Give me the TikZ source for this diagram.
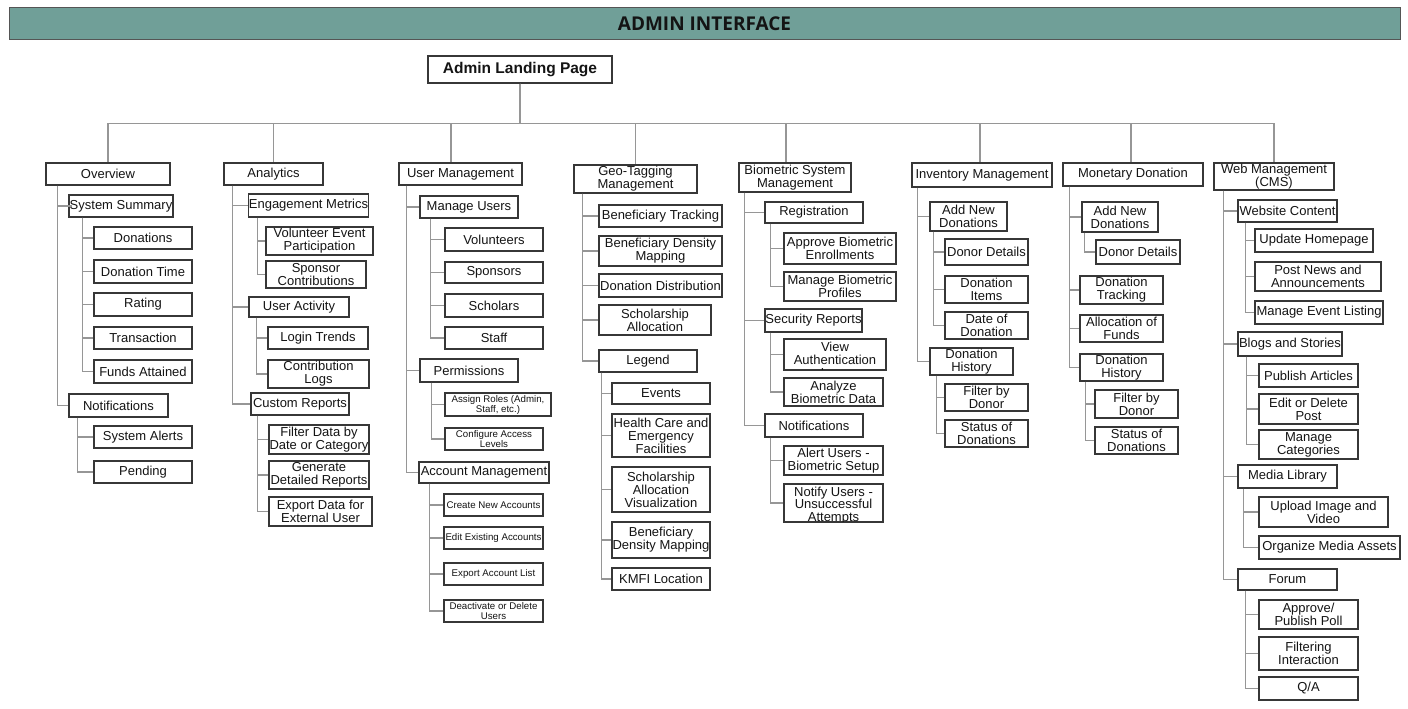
\documentclass[tikz,border=0pt]{standalone}
\usepackage{fontspec}
\setmainfont{Liberation Sans}
\newfontfamily\titlefont{Open Sans}
\definecolor{bordc}{RGB}{55,55,55}
\definecolor{linec}{RGB}{150,150,150}
\definecolor{txt}{RGB}{20,20,20}
\definecolor{teal}{RGB}{112,159,152}
\definecolor{barline}{RGB}{85,85,85}
\tikzset{
  box/.style={draw=bordc, line width=1.1pt, fill=white, inner xsep=0pt, inner ysep=0pt,
    align=center, text=txt, font=\fontsize{13}{12.9}\selectfont},
  sm/.style={font=\fontsize{9.7}{10}\selectfont},
  txtonly/.style={inner sep=0pt, align=center, text=txt, font=\fontsize{13}{12.9}\selectfont},
  conn/.style={draw=linec, line width=1.1pt},
}
% \bx[opts]{name}{x1}{y1}{x2}{y2}{text}
\newcommand\bx[7][]{\node[box,#1,minimum width={#5pt-#3pt},minimum height={#6pt-#4pt}] (#2) at ({(#3+#5)/2},{(#4+#6)/2}) {#7};}
% \br{parent}{dx}{child}
\newcommand\br[3]{\draw[conn] ([xshift=#2pt]#1.south west) |- (#3.west);}
\begin{document}
\begin{tikzpicture}[x=1pt,y=-1pt]
\useasboundingbox (0,0) rectangle (1408,709);
\fill[white] (0,0) rectangle (1408,709);

% title bar
\node[draw=barline, line width=1pt, fill=teal, minimum width=1391pt, minimum height=32pt,
      inner sep=0pt, text=txt, font=\titlefont\bfseries\fontsize{19}{22}\selectfont]
      (title) at (704.5,24) {ADMIN INTERFACE};

% root
\bx[font=\bfseries\fontsize{15.5}{18}\selectfont]{landing}{428}{56}{612}{83}{Admin Landing Page}

% level 1
\bx{ov}{46}{163}{170}{185}{Overview}
\bx{an}{224}{163}{323}{185}{Analytics}
\bx{um}{399}{163}{522}{185}{User Management}
\bx{geo}{574}{165}{697}{193}{Geo-Tagging\\Management}
\bx{bio}{739}{163}{851}{192}{Biometric System\\Management}
\bx{inv}{912}{163}{1052}{187}{Inventory Management}
\bx{mon}{1063}{163}{1203}{186}{Monetary Donation}
\bx{web}{1214}{163}{1334}{190}{Web Management\\(CMS)}

\draw[conn] (landing.south) -- ++(0,39.5) -| (ov.north);
\draw[conn] (landing.south) -- ++(0,39.5) -| (an.north);
\draw[conn] (landing.south) -- ++(0,39.5) -| ([xshift=-9.5pt]um.north);
\draw[conn] (landing.south) -- ++(0,39.5) -| (geo.north);
\draw[conn] (landing.south) -- ++(0,39.5) -| ([xshift=-9pt]bio.north);
\draw[conn] (landing.south) -- ++(0,39.5) -| ([xshift=-2pt]inv.north);
\draw[conn] (landing.south) -- ++(0,39.5) -| ([xshift=-2pt]mon.north);
\draw[conn] (landing.south) -- ++(0,39.5) -| (web.north);

% Overview
\bx{ss}{69}{195}{173}{217}{System Summary}
\bx{d1}{94}{227}{192}{249}{Donations}
\bx{d2}{94}{260}{192}{283}{Donation Time}
\bx{d3}{94}{293}{192}{316}{Rating}
\bx{d4}{94}{327}{192}{349}{Transaction}
\bx{d5}{94}{360}{192}{383}{Funds Attained}
\bx{on}{69}{394}{168}{417}{Notifications}
\bx{n1}{94}{426}{192}{448}{System Alerts}
\bx{n2}{94}{461}{192}{483}{Pending}
\draw[conn] ([xshift=12pt]ov.south west) |- ([xshift=4pt]ss.west);
\br{ov}{12}{on}
\br{ss}{14}{d1} \br{ss}{14}{d2} \br{ss}{14}{d3} \br{ss}{14}{d4} \br{ss}{14}{d5}
\br{on}{9}{n1} \br{on}{9}{n2}

% Analytics
\bx{em}{249}{194}{368}{217}{Engagement Metrics}
\bx{em1}{266}{227}{373}{255}{Volunteer Event\\Participation}
\bx{em2}{266}{261}{366}{288}{Sponsor\\Contributions}
\bx{ua}{249}{297}{349}{317}{User Activity}
\bx{ua1}{268}{327}{368}{349}{Login Trends}
\bx{ua2}{268}{360}{369}{388}{Contribution\\Logs}
\bx{cr}{251}{393}{349}{415}{Custom Reports}
\bx{cr1}{269}{425}{369}{454}{Filter Data by\\Date or Category}
\bx{cr2}{269}{461}{369}{489}{Generate\\Detailed Reports}
\bx{cr3}{269}{497}{372}{526}{Export Data for\\External User}
\br{an}{9}{em} \br{an}{9}{ua} \br{an}{9}{cr}
\br{em}{9}{em1} \br{em}{9}{em2}
\br{ua}{8}{ua1} \br{ua}{8}{ua2}
\br{cr}{7}{cr1} \br{cr}{7}{cr2} \br{cr}{7}{cr3}

% User Management
\bx{mu}{420}{196}{518}{218}{Manage Users}
\bx{mu1}{445}{228}{543}{251}{Volunteers}
\bx{mu2}{445}{262}{543}{283}{Sponsors}
\bx{mu3}{445}{294}{543}{317}{Scholars}
\bx{mu4}{445}{327}{543}{349}{Staff}
\bx{pm}{420}{359}{518}{382}{Permissions}
\bx[sm]{pm1}{445}{393}{551}{416}{Assign Roles (Admin,\\Staff, etc.)}
\bx[sm]{pm2}{445}{428}{543}{450}{Configure Access\\Levels}
\bx{am}{419}{462}{549}{483}{Account Management}
\bx[sm]{am1}{444}{494}{543}{516}{Create New Accounts}
\bx[sm]{am2}{444}{527}{543}{549}{Edit Existing Accounts}
\bx[sm]{am3}{444}{563}{543}{585}{Export Account List}
\bx[sm]{am4}{444}{600}{543}{622}{Deactivate or Delete\\Users}
\br{um}{8}{mu} \br{um}{8}{pm} \br{um}{8}{am}
\br{mu}{11}{mu1} \br{mu}{11}{mu2} \br{mu}{11}{mu3} \br{mu}{11}{mu4}
\br{pm}{12}{pm1} \br{pm}{12}{pm2}
\br{am}{11}{am1} \br{am}{11}{am2} \br{am}{11}{am3} \br{am}{11}{am4}

% Geo-Tagging
\bx{g1}{599}{205}{722}{227}{Beneficiary Tracking}
\bx{g2}{599}{236}{722}{266}{Beneficiary Density\\Mapping}
\bx{g3}{599}{274}{722}{297}{Donation Distribution}
\bx{g4}{599}{305}{711}{335}{Scholarship\\Allocation}
\bx{g5}{599}{350}{697}{372}{Legend}
\bx{l1}{612}{383}{710}{404}{Events}
\bx{l2}{612}{414}{710}{457}{Health Care and\\Emergency\\Facilities}
\bx{l3}{612}{467}{710}{512}{Scholarship\\Allocation\\Visualization}
\bx{l4}{612}{522}{710}{558}{Beneficiary\\Density Mapping}
\bx{l5}{612}{568}{710}{590}{KMFI Location}
\br{geo}{9}{g1} \br{geo}{9}{g2} \br{geo}{9}{g3} \br{geo}{9}{g4} \br{geo}{9}{g5}
\br{g5}{3}{l1} \br{g5}{3}{l2} \br{g5}{3}{l3} \br{g5}{3}{l4} \br{g5}{3}{l5}

% Biometric
\bx{r}{765}{202}{863}{223}{Registration}
\bx{r1}{784}{233}{896}{264}{Approve Biometric\\Enrollments}
\bx{r2}{784}{272}{896}{301}{Manage Biometric\\Profiles}
\bx{sr}{765}{309}{862}{332}{Security Reports}
\bx{sr1}{784}{339}{886}{370}{}
\begin{scope}
  \clip ([xshift=1pt,yshift=1pt]sr1.south west) rectangle ([xshift=-1pt,yshift=-1pt]sr1.north east);
  \node[txtonly, anchor=north] (sr1t) at ([yshift=-3.5pt]sr1.north) {View\\Authentication\\Logs};
\end{scope}
\bx{sr2}{784}{378}{883}{406}{Analyze\\Biometric Data}
\bx{bn}{765}{414}{863}{437}{Notifications}
\bx{bn1}{784}{446}{883}{475}{Alert Users -\\Biometric Setup}
\bx{bn2}{784}{484}{883}{522}{}
\begin{scope}
  \clip ([xshift=1pt,yshift=1pt]bn2.south west) rectangle ([xshift=-1pt,yshift=-1pt]bn2.north east);
  \node[txtonly, anchor=north] (bn2t) at ([yshift=-3pt]bn2.north) {Notify Users -\\Unsuccessful\\Attempts};
\end{scope}
\br{bio}{6}{r} \br{bio}{6}{sr} \br{bio}{6}{bn}
\br{r}{6}{r1} \br{r}{6}{r2}
\br{sr}{6}{sr1} \br{sr}{6}{sr2}
\br{bn}{6}{bn1} \br{bn}{6}{bn2}

% Inventory
\bx{and}{930}{202}{1007}{231}{Add New\\Donations}
\bx{and1}{945}{239}{1028}{265}{Donor Details}
\bx{and2}{945}{276}{1028}{303}{Donation\\Items}
\bx{and3}{945}{312}{1028}{339}{Date of\\Donation}
\bx{dh}{930}{348}{1013}{375}{Donation\\History}
\bx{dh1}{945}{384}{1028}{411}{Filter by\\Donor}
\bx{dh2}{945}{420}{1028}{447}{Status of\\Donations}
\br{inv}{6}{and} \br{inv}{6}{dh}
\br{and}{4}{and1} \br{and}{4}{and2} \br{and}{4}{and3}
\br{dh}{7}{dh1} \br{dh}{7}{dh2}

% Monetary
\bx{mand}{1082}{202}{1158}{232}{Add New\\Donations}
\bx{mand1}{1096}{240}{1180}{264}{Donor Details}
\bx{mdt}{1080}{276}{1163}{304}{Donation\\Tracking}
\bx{maf}{1080}{315}{1163}{342}{Allocation of\\Funds}
\bx{mdh}{1080}{354}{1163}{381}{Donation\\History}
\bx{mdh1}{1095}{390}{1178}{418}{Filter by\\Donor}
\bx{mdh2}{1095}{427}{1178}{454}{Status of\\Donations}
\br{mon}{7}{mand} \br{mon}{7}{mdt} \br{mon}{7}{maf} \br{mon}{7}{mdh}
\br{mand}{3}{mand1}
\br{mdh}{6}{mdh1} \br{mdh}{6}{mdh2}

% Web Management
\bx{wc}{1238}{200}{1337}{222}{Website Content}
\bx{wc1}{1255}{229}{1373}{252}{Update Homepage}
\bx{wc2}{1255}{262}{1381}{291}{Post News and\\Announcements}
\bx{wc3}{1255}{301}{1383}{324}{Manage Event Listing}
\bx{bs}{1238}{332}{1342}{356}{Blogs and Stories}
\bx{bs1}{1259}{364}{1358}{387}{Publish Articles}
\bx{bs2}{1259}{394}{1358}{424}{Edit or Delete\\Post}
\bx{bs3}{1259}{430}{1358}{459}{Manage\\Categories}
\bx{ml}{1238}{465}{1337}{488}{Media Library}
\bx{ml1}{1259}{497}{1388}{527}{Upload Image and\\Video}
\bx{ml2}{1259}{536}{1400}{559}{Organize Media Assets}
\bx{fo}{1238}{569}{1337}{590}{Forum}
\bx{fo1}{1259}{600}{1358}{629}{Approve/\\Publish Poll}
\bx{fo2}{1259}{637}{1358}{670}{Filtering\\Interaction}
\bx{fo3}{1259}{677}{1358}{700}{Q/A}
\br{web}{10}{wc} \br{web}{10}{bs} \br{web}{10}{ml} \br{web}{10}{fo}
\br{wc}{8}{wc1} \br{wc}{8}{wc2} \br{wc}{8}{wc3}
\br{bs}{9}{bs1} \br{bs}{9}{bs2} \br{bs}{9}{bs3}
\br{ml}{6}{ml1} \br{ml}{6}{ml2}
\br{fo}{8}{fo1} \br{fo}{8}{fo2} \br{fo}{8}{fo3}
\end{tikzpicture}
\end{document}
